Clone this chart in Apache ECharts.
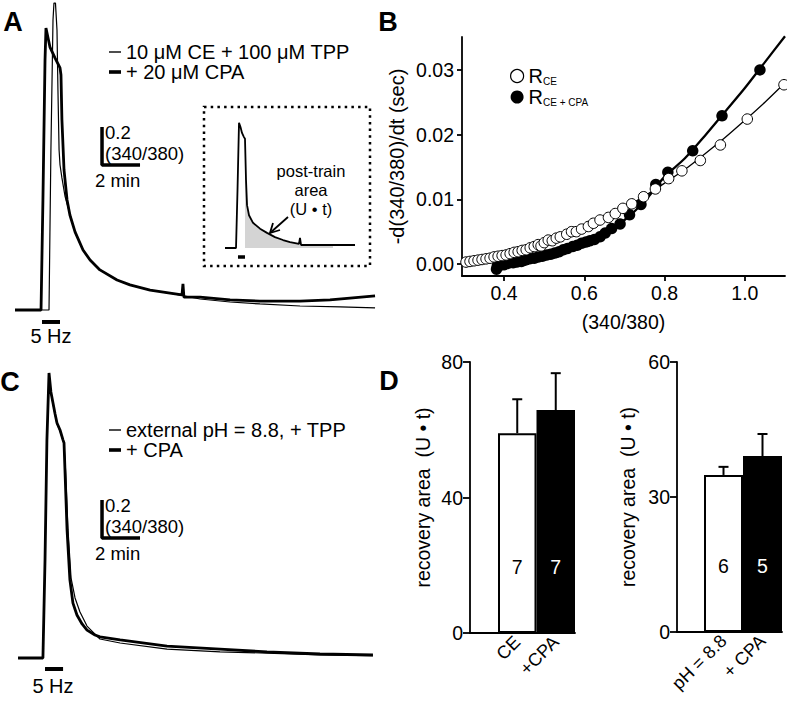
<!DOCTYPE html>
<html><head><meta charset="utf-8">
<script src="https://cdn.jsdelivr.net/npm/echarts@6/dist/echarts.min.js"></script>
<style>html,body{margin:0;padding:0;background:#fff}#c{width:787px;height:708px}</style>
</head><body><div id="c"></div>
<script>
// ---------- DATA ----------
// Panel A traces: [time (min), delta ratio 340/380 above baseline]
const traceA_TPP = [[0,0],[1.79,0],[1.89,0.842],[2.0,1.526],[2.05,1.615],[2.13,1.615],[2.21,1.474],[2.26,1.158],[2.32,0.842],[2.37,0.763],[2.47,0.695],[2.63,0.6],[2.89,0.505],[3.16,0.411],[3.58,0.316],[3.95,0.263],[4.47,0.211],[5.37,0.158],[6.05,0.132],[7.11,0.105],[8.16,0.089],[9.74,0.058],[11.32,0.042],[12.89,0.032],[15.0,0.021],[17.11,0.016],[18.95,0.011]];
const traceA_CPA = [[0,0],[1.37,0],[1.47,0.579],[1.58,1.316],[1.63,1.484],[1.74,1.432],[1.84,1.384],[2.11,1.326],[2.37,1.274],[2.42,1.237],[2.47,1.0],[2.58,0.737],[2.74,0.579],[2.89,0.5],[3.16,0.411],[3.58,0.316],[3.95,0.263],[4.47,0.211],[5.37,0.158],[6.05,0.132],[7.11,0.105],[8.16,0.089],[8.79,0.079],[8.84,0.137],[8.89,0.068],[9.74,0.068],[11.32,0.053],[12.89,0.047],[15.0,0.047],[16.58,0.053],[17.63,0.063],[18.95,0.074]];
const stimA = [1.42, 2.37];
// Inset trace (schematic)
const insetTrace = [[0,0],[1.62,0],[1.84,0.69],[2.06,1.49],[2.28,1.44],[2.5,1.37],[2.79,1.32],[2.94,1.30],[3.09,0.81],[3.24,0.51],[3.53,0.39],[4.12,0.30],[5.15,0.23],[6.18,0.18],[7.35,0.13],[8.53,0.095],[9.56,0.071],[10.88,0.048],[11.03,0.12],[11.18,0.036],[13.24,0.036],[15.88,0.036],[19.12,0.036]];
const insetStim = [1.91, 2.94];
const insetArea = [2.94, 15.88];
// Panel C traces
const traceC_TPP = [[0.16,0],[1.47,0],[1.58,0.516],[1.68,1.147],[1.79,1.49],[1.89,1.395],[2.0,1.337],[2.11,1.279],[2.21,1.232],[2.37,1.195],[2.53,1.142],[2.58,1.126],[2.66,0.989],[2.79,0.674],[2.95,0.421],[3.16,0.316],[3.42,0.242],[3.79,0.168],[4.21,0.126],[4.47,0.1],[5.53,0.079],[8.0,0.047],[10.79,0.032],[13.26,0.026],[16.05,0.016],[18.84,0.011]];
const traceC_CPA = [[0.16,0],[1.47,0],[1.58,0.516],[1.68,1.147],[1.79,1.5],[1.89,1.4],[2.0,1.342],[2.11,1.284],[2.21,1.237],[2.37,1.2],[2.53,1.147],[2.58,1.132],[2.63,0.989],[2.74,0.674],[2.89,0.411],[3.05,0.289],[3.26,0.226],[3.53,0.179],[3.79,0.147],[4.21,0.121],[4.47,0.111],[5.53,0.095],[8.0,0.063],[10.79,0.047],[13.26,0.032],[16.05,0.021],[18.84,0.016]];
const stimC = [1.58, 2.53];
const scaleRatio = 0.2, scaleMinutes = 2;
// Panel B
const bOpen = [[0.305,0.0003],[0.315,0.0004],[0.325,0.0005],[0.335,0.0006],[0.345,0.0007],[0.355,0.0008],[0.365,0.0009],[0.375,0.0011],[0.385,0.0012],[0.395,0.0013],[0.405,0.0014],[0.415,0.0016],[0.425,0.0018],[0.435,0.0019],[0.445,0.0021],[0.455,0.0022],[0.465,0.0025],[0.475,0.0027],[0.485,0.0030],[0.492,0.0028],[0.50,0.0033],[0.51,0.0037],[0.52,0.0036],[0.53,0.0040],[0.54,0.0042],[0.556,0.0046],[0.568,0.0050],[0.58,0.0050],[0.593,0.0054],[0.61,0.0058],[0.6225,0.0063],[0.639,0.0068],[0.66,0.0072],[0.677,0.0078],[0.696,0.0086],[0.718,0.0093],[0.7475,0.0104],[0.777,0.0116],[0.81,0.0132],[0.843,0.0144],[0.889,0.0160],[0.939,0.0184],[1.006,0.0224],[1.0975,0.0277]];
const bFilled = [[0.381,-0.0008],[0.383,-0.0003],[0.39,-0.0002],[0.40,-0.0001],[0.41,0.0001],[0.4225,0.0002],[0.432,0.0003],[0.443,0.0004],[0.453,0.0006],[0.464,0.0008],[0.475,0.0009],[0.485,0.0011],[0.495,0.0012],[0.506,0.0014],[0.516,0.0015],[0.5265,0.0017],[0.537,0.0019],[0.5475,0.0022],[0.558,0.0024],[0.571,0.0027],[0.582,0.0029],[0.593,0.0032],[0.604,0.0034],[0.614,0.0036],[0.625,0.0038],[0.639,0.0042],[0.652,0.0048],[0.668,0.0055],[0.689,0.0062],[0.7125,0.0076],[0.741,0.0092],[0.778,0.0123],[0.808,0.0142],[0.87,0.0175],[0.943,0.0229],[1.0375,0.0300]];
const bFitOpen = [[0.30,0.0003],[0.35,0.0008],[0.4,0.0014],[0.45,0.0022],[0.5,0.0032],[0.55,0.0044],[0.6,0.0057],[0.65,0.0071],[0.7,0.0087],[0.75,0.0105],[0.8,0.0125],[0.85,0.0146],[0.9,0.0170],[0.95,0.0195],[1.0,0.0222],[1.05,0.0250],[1.1,0.0280]];
const bFitFilled = [[0.38,-0.0004],[0.45,0.0005],[0.5,0.0012],[0.55,0.0022],[0.6,0.0033],[0.65,0.0048],[0.7,0.0068],[0.75,0.0097],[0.8,0.0135],[0.85,0.0163],[0.9,0.0198],[0.95,0.0235],[1.0,0.0272],[1.05,0.0312],[1.1,0.0352]];
const bXTicks = [0.4, 0.6, 0.8, 1.0];
const bYTicks = [0, 0.01, 0.02, 0.03];
// Panel D
const dLeftCats = ['CE', '+CPA'];
const dLeftMean = [59.0, 65.8];
const dLeftSem = [10.0, 10.9];
const dLeftN = [7, 7];
const dRightCats = ['pH = 8.8', '+ CPA'];
const dRightMean = [34.9, 39.1];
const dRightSem = [1.8, 4.9];
const dRightN = [6, 5];

// ---------- LAYOUT / STYLE ----------
const FONT = '"Liberation Sans", Arial, Helvetica, sans-serif';
const BLACK = '#000';
const PXU = 190, PXM = 19;          // trace scale: px per ratio unit, px per minute
const IPXU = 84, IPXM = 6.8;        // inset scale
function hiddenAxes(gridIndex, g, baseY, pxu, pxm) {
  return {
    x: {type:'value', gridIndex, show:false, min:0, max:g.width/pxm},
    y: {type:'value', gridIndex, show:false, min:-(g.top+g.height-baseY)/pxu, max:(baseY-g.top)/pxu}
  };
}
const gA = {left:15, top:2, width:360, height:327};
const gI = {left:225, top:110, width:135, height:152};
const gC = {left:15, top:350, width:360, height:327};
const axA = hiddenAxes(0, gA, 310, PXU, PXM);
const axI = hiddenAxes(1, gI, 248, IPXU, IPXM);
const axC = hiddenAxes(2, gC, 658, PXU, PXM);

function line(name, data, xi, width, extra) {
  return Object.assign({type:'line', name, data, xAxisIndex:xi, yAxisIndex:xi, symbol:'none', clip:false,
    silent:true, lineStyle:{color:BLACK, width}, itemStyle:{color:BLACK}}, extra||{});
}
const lineAxis = {lineStyle:{color:BLACK, width:1.8}, onZero:false};
const tickStyle = {lineStyle:{color:BLACK, width:1.8}};
const lblStyle = {color:BLACK, fontSize:19.5, fontFamily:FONT};

function errorSeries(idx, mean, sem) {
  return {type:'custom', xAxisIndex:idx, yAxisIndex:idx, silent:true, z:5,
    data: mean.map((m,i)=>[i, m, sem[i]]),
    renderItem: (params, api) => {
      const c = api.value(0), m = api.value(1), s = api.value(2);
      const p0 = api.coord([c, m]), p1 = api.coord([c, m + s]);
      return {type:'group', children:[
        {type:'line', shape:{x1:p0[0], y1:p0[1], x2:p1[0], y2:p1[1]}, style:{stroke:BLACK, lineWidth:2}},
        {type:'line', shape:{x1:p1[0]-5, y1:p1[1], x2:p1[0]+5, y2:p1[1]}, style:{stroke:BLACK, lineWidth:2}}
      ]};
    }};
}
function barSeries(idx, mean, nArr) {
  return {type:'bar', xAxisIndex:idx, yAxisIndex:idx, barWidth:'100%', silent:true,
    data: mean.map((v,i)=>({value:v, itemStyle:{color: i ? BLACK : '#fff'}, label:{color: i ? '#fff' : BLACK}})),
    itemStyle:{borderColor:BLACK, borderWidth:2},
    label:{show:true, position:'insideBottom', distance:56, fontSize:19.5, fontFamily:FONT,
      formatter: p => String(nArr[p.dataIndex])}};
}
function dAxisY(idx, max, ticks, name, gap) {
  return {type:'value', gridIndex:idx, min:0, max, interval:ticks[1]-ticks[0],
    axisLine:{show:true, ...lineAxis}, axisTick:{show:true, length:7, ...tickStyle},
    axisLabel:{...lblStyle, margin:7}, splitLine:{show:false},
    name, nameLocation:'middle', nameGap:gap, nameRotate:90, nameTextStyle:{...lblStyle}};
}

const t0 = 4.58, vA = 0.763, vC = 0.632;  // scale bar corners (layout)
const stimLevelA = -0.063, stimLevelC = -0.058, stimLevelI = -0.107;

const option = {
  animation:false,
  textStyle:{fontFamily:FONT, color:BLACK},
  grid:[
    {...gA}, {...gI}, {...gC},
    {left:462, top:37, width:323, height:239},
    {left:470, top:362, width:105, height:271},
    {left:498, top:362, width:77, height:271},
    {left:677, top:362, width:105, height:270},
    {left:704, top:362, width:78, height:270}
  ],
  xAxis:[
    axA.x, axI.x, axC.x,
    {type:'value', gridIndex:3, min:0.295, max:1.1, axisLine:{show:true, ...lineAxis},
      axisTick:{show:true, length:5, customValues:bXTicks, ...tickStyle},
      axisLabel:{...lblStyle, margin:7, customValues:bXTicks, formatter:v=>Number(v).toFixed(1)},
      splitLine:{show:false}, name:'(340/380)', nameLocation:'middle', nameGap:36, nameTextStyle:{...lblStyle}},
    {type:'value', gridIndex:4, min:0, max:1, axisLine:{show:true, ...lineAxis}, axisTick:{show:false}, axisLabel:{show:false}, splitLine:{show:false}},
    {type:'category', gridIndex:5, data:dLeftCats, axisLine:{show:false}, axisTick:{show:false},
      axisLabel:{...lblStyle, fontSize:18, rotate:45, margin:6, interval:0}},
    {type:'value', gridIndex:6, min:0, max:1, axisLine:{show:true, ...lineAxis}, axisTick:{show:false}, axisLabel:{show:false}, splitLine:{show:false}},
    {type:'category', gridIndex:7, data:dRightCats, axisLine:{show:false}, axisTick:{show:false},
      axisLabel:{...lblStyle, fontSize:18, rotate:45, margin:6, interval:0}}
  ],
  yAxis:[
    axA.y, axI.y, axC.y,
    {type:'value', gridIndex:3, min:-0.00185, max:0.03508, axisLine:{show:true, ...lineAxis},
      axisTick:{show:true, length:5, customValues:bYTicks, ...tickStyle},
      axisLabel:{...lblStyle, margin:8, customValues:bYTicks, formatter:v=>Number(v).toFixed(2)},
      splitLine:{show:false}, name:'-d(340/380)/dt (sec)', nameLocation:'middle', nameGap:55, nameRotate:90, nameTextStyle:{...lblStyle, fontSize:20}},
    dAxisY(4, 80, [0,40,80], 'recovery area \u00a0(U \u2022 t)', 37),
    {type:'value', gridIndex:5, min:0, max:80, show:false},
    dAxisY(6, 60, [0,30,60], 'recovery area \u00a0(U \u2022 t)', 39),
    {type:'value', gridIndex:7, min:0, max:60, show:false}
  ],
  legend:[
    {left:104, top:37, orient:'vertical', itemWidth:12, itemHeight:20, itemGap:0, selectedMode:false,
      textStyle:{fontSize:20, color:BLACK, fontFamily:FONT},
      data:[{name:'10 \u03bcM CE + 100 \u03bcM TPP', icon:'path://M0,0H12V1.4H0Z', itemStyle:{color:BLACK, borderWidth:0}},
            {name:'+ 20 \u03bcM CPA', icon:'path://M0,0H12V3.6H0Z', itemStyle:{color:BLACK, borderWidth:0}}]},
    {left:104, top:415, orient:'vertical', itemWidth:12, itemHeight:20, itemGap:0, selectedMode:false,
      textStyle:{fontSize:20, color:BLACK, fontFamily:FONT},
      data:[{name:'external pH = 8.8, + TPP', icon:'path://M0,0H12V1.4H0Z', itemStyle:{color:BLACK, borderWidth:0}},
            {name:'+ CPA', icon:'path://M0,0H12V3.6H0Z', itemStyle:{color:BLACK, borderWidth:0}}]},
    {left:505, top:61, orient:'vertical', itemWidth:13, itemHeight:18, itemGap:1, selectedMode:false,
      formatter: n => n === 'RCE' ? '{r|R}{s|CE}' : '{r|R}{s|CE + CPA}',
      textStyle:{color:BLACK, fontFamily:FONT, rich:{r:{fontSize:20, lineHeight:20}, s:{fontSize:10, lineHeight:20, verticalAlign:'bottom'}}},
      data:[{name:'RCE', icon:'circle', itemStyle:{color:'#fff', borderColor:BLACK, borderWidth:1.2, opacity:1}},
            {name:'RCECPA', icon:'circle', itemStyle:{color:BLACK, borderWidth:0, opacity:1}}]}
  ],
  series:[
    // Panel A
    line('10 \u03bcM CE + 100 \u03bcM TPP', traceA_TPP, 0, 1.2),
    line('+ 20 \u03bcM CPA', traceA_CPA, 0, 2.8),
    line('stimA', stimA.map(t=>[t, stimLevelA]), 0, 4),
    line('scaleA', [[t0, vA+scaleRatio],[t0, vA],[t0+scaleMinutes, vA]], 0, 3.5),
    // Inset
    line('insetArea', insetTrace.filter(p=>p[0]>=insetArea[0] && p[0]<=insetArea[1]), 1, 0,
      {areaStyle:{color:'#d4d4d4', opacity:1}, lineStyle:{width:0, opacity:0}, z:1}),
    line('inset', insetTrace, 1, 1.8, {z:3}),
    line('stimI', insetStim.map(t=>[t, stimLevelI]), 1, 3.5),
    // Panel C
    line('external pH = 8.8, + TPP', traceC_TPP, 2, 1.2),
    line('+ CPA', traceC_CPA, 2, 2.8),
    line('stimC', stimC.map(t=>[t, stimLevelC]), 2, 4),
    line('scaleC', [[t0, vC+scaleRatio],[t0, vC],[t0+scaleMinutes, vC]], 2, 3.5),
    // Panel B
    {type:'line', name:'fitOpen', data:bFitOpen, xAxisIndex:3, yAxisIndex:3, symbol:'none', smooth:0.3, silent:true, clip:false,
      lineStyle:{color:BLACK, width:1.3}, z:2},
    {type:'line', name:'fitFilled', data:bFitFilled, xAxisIndex:3, yAxisIndex:3, symbol:'none', smooth:0.3, silent:true, clip:false,
      lineStyle:{color:BLACK, width:2.3}, z:2},
    {type:'scatter', name:'RCECPA', data:bFilled, xAxisIndex:3, yAxisIndex:3, symbolSize:11.5, silent:true, clip:false,
      itemStyle:{color:BLACK, opacity:1}, z:3},
    {type:'scatter', name:'RCE', data:bOpen, xAxisIndex:3, yAxisIndex:3, symbolSize:10.5, silent:true, clip:false,
      itemStyle:{color:'#fff', borderColor:BLACK, borderWidth:1, opacity:1}, z:4},
    // Panel D
    barSeries(5, dLeftMean, dLeftN),
    errorSeries(5, dLeftMean, dLeftSem),
    barSeries(7, dRightMean, dRightN),
    errorSeries(7, dRightMean, dRightSem)
  ],
  graphic:[
    ...[['A',13,22],['B',388,22],['C',10,382],['D',389,381]].map(([t,x,y])=>({type:'text', x, y,
      style:{text:t, font:'bold 27px '+FONT, fill:BLACK, textAlign:'center', textVerticalAlign:'middle', align:'center', verticalAlign:'middle'}})),
    ...[['5 Hz',51,336],['5 Hz',53,686]].map(([t,x,y])=>({type:'text', x, y,
      style:{text:t, font:'20px '+FONT, fill:BLACK, textAlign:'center', textVerticalAlign:'middle', align:'center', verticalAlign:'middle'}})),
    ...[['0.2',105,132],['(340/380)',105,153],['2 min',95,180],['0.2',105,505],['(340/380)',105,526],['2 min',95,553]].map(([t,x,y])=>({type:'text', x, y,
      style:{text:t, font:'18.5px '+FONT, fill:BLACK, textAlign:'left', textVerticalAlign:'middle', align:'left', verticalAlign:'middle'}})),
    ...[['post-train',311,171],['area',311,190],['(U \u2022 t)',311,209]].map(([t,x,y])=>({type:'text', x, y,
      style:{text:t, font:'16.5px '+FONT, fill:BLACK, textAlign:'center', textVerticalAlign:'middle', align:'center', verticalAlign:'middle'}})),
    {type:'rect', shape:{x:204, y:107, width:166, height:159}, style:{fill:'none', stroke:BLACK, lineWidth:2.5, lineDash:[2.5,4.2]}},
    {type:'polyline', shape:{points:[[288,217],[270,233]]}, style:{fill:'none', stroke:BLACK, lineWidth:1.8}},
    {type:'polyline', shape:{points:[[280,230],[270,233],[273,223]]}, style:{fill:'none', stroke:BLACK, lineWidth:1.8}}
  ]
};
const chart = echarts.init(document.getElementById('c'), null, {renderer:'svg', width:787, height:708});
chart.setOption(option);
</script>
</body></html>
